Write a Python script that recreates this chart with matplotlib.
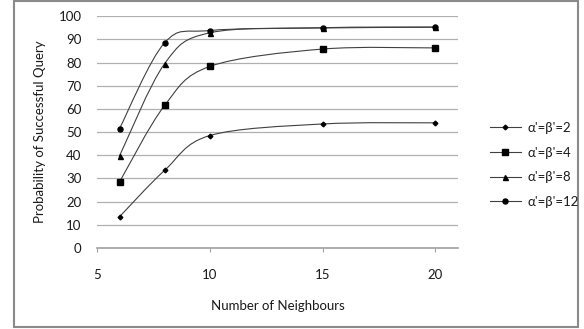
import numpy as np
import matplotlib
matplotlib.use("Agg")
import matplotlib.pyplot as plt
from matplotlib.path import Path
from matplotlib.patches import PathPatch, Rectangle
from matplotlib.lines import Line2D

# data
neighbours = [6, 8, 10, 15, 20]
p_ab2 = [13.5, 33.5, 48.5, 53.5, 54.0]
p_ab4 = [28.5, 61.5, 78.3, 85.8, 86.3]
p_ab8 = [39.7, 79.5, 92.8, 95.0, 95.3]
p_ab12 = [51.5, 88.5, 93.8, 94.9, 95.2]
labels = ["α'=β'=2", "α'=β'=4", "α'=β'=8", "α'=β'=12"]
markers = ["D", "s", "^", "o"]
msizes = [2.4, 3.8, 3.6, 3.6]

plt.rcParams['font.family'] = ['Lato', 'DejaVu Sans']

line_col = '#404040'


def smooth_path(x, y):
    # Excel-like smoothed line as cubic bezier segments through the points
    pts = np.column_stack([x, y]).astype(float)
    n = len(pts)
    verts = [pts[0]]
    codes = [Path.MOVETO]
    for i in range(n - 1):
        p0 = pts[i - 1] if i > 0 else pts[i]
        p1 = pts[i]
        p2 = pts[i + 1]
        p3 = pts[i + 2] if i + 2 < n else pts[i + 1]
        c1 = p1 + (p2 - p0) / 6.0
        c2 = p2 - (p3 - p1) / 6.0
        verts += [c1, c2, p2]
        codes += [Path.CURVE4] * 3
    return Path(verts, codes)


fig = plt.figure(figsize=(5.84, 3.29), dpi=100)
ax = fig.add_axes([0.166, 0.246, 0.618, 0.705])

handles = []
for ys, lab, mk, ms in zip([p_ab2, p_ab4, p_ab8, p_ab12], labels, markers, msizes):
    ax.add_patch(PathPatch(smooth_path(neighbours, ys), facecolor='none',
                           edgecolor=line_col, lw=0.8, zorder=3))
    ax.plot(neighbours, ys, linestyle='none', marker=mk, ms=ms,
            color='black', zorder=4)
    handles.append(Line2D([], [], color=line_col, lw=0.8, marker=mk,
                          ms=ms, markerfacecolor='black', markeredgecolor='black'))

ax.set_xlim(5, 21)
ax.set_ylim(0, 100)
ax.set_xticks([5, 10, 15, 20])
ax.set_yticks(range(0, 101, 10))
ax.yaxis.grid(True, color='#b0b0b0', lw=0.9)
ax.set_axisbelow(True)
for s in ['top', 'right', 'left']:
    ax.spines[s].set_visible(False)
ax.spines['bottom'].set_color('#a0a0a0')
ax.spines['bottom'].set_linewidth(1.2)
ax.tick_params(axis='y', length=0, pad=11, labelsize=9.5, colors='#1a1a1a')
ax.tick_params(axis='x', length=3, color='#a0a0a0', pad=12,
               labelsize=9.5, labelcolor='#1a1a1a')
ax.set_xlabel('Number of Neighbours', fontsize=9.5, labelpad=14, color='#1a1a1a')
ax.set_ylabel('Probability of Successful Query', fontsize=9.5, labelpad=9,
              color='#1a1a1a')

fig.legend(handles, labels, loc='upper left', bbox_to_anchor=(0.818, 0.665),
           frameon=False, fontsize=9.5, handlelength=2.4, handletextpad=0.5,
           labelspacing=0.95, labelcolor='#1a1a1a')

fig.patches.append(Rectangle((0.024, 0.006), 0.966, 0.99, transform=fig.transFigure,
                             fill=False, edgecolor='#8a8a8a', lw=1.5))

fig.savefig('out.png', dpi=100)
